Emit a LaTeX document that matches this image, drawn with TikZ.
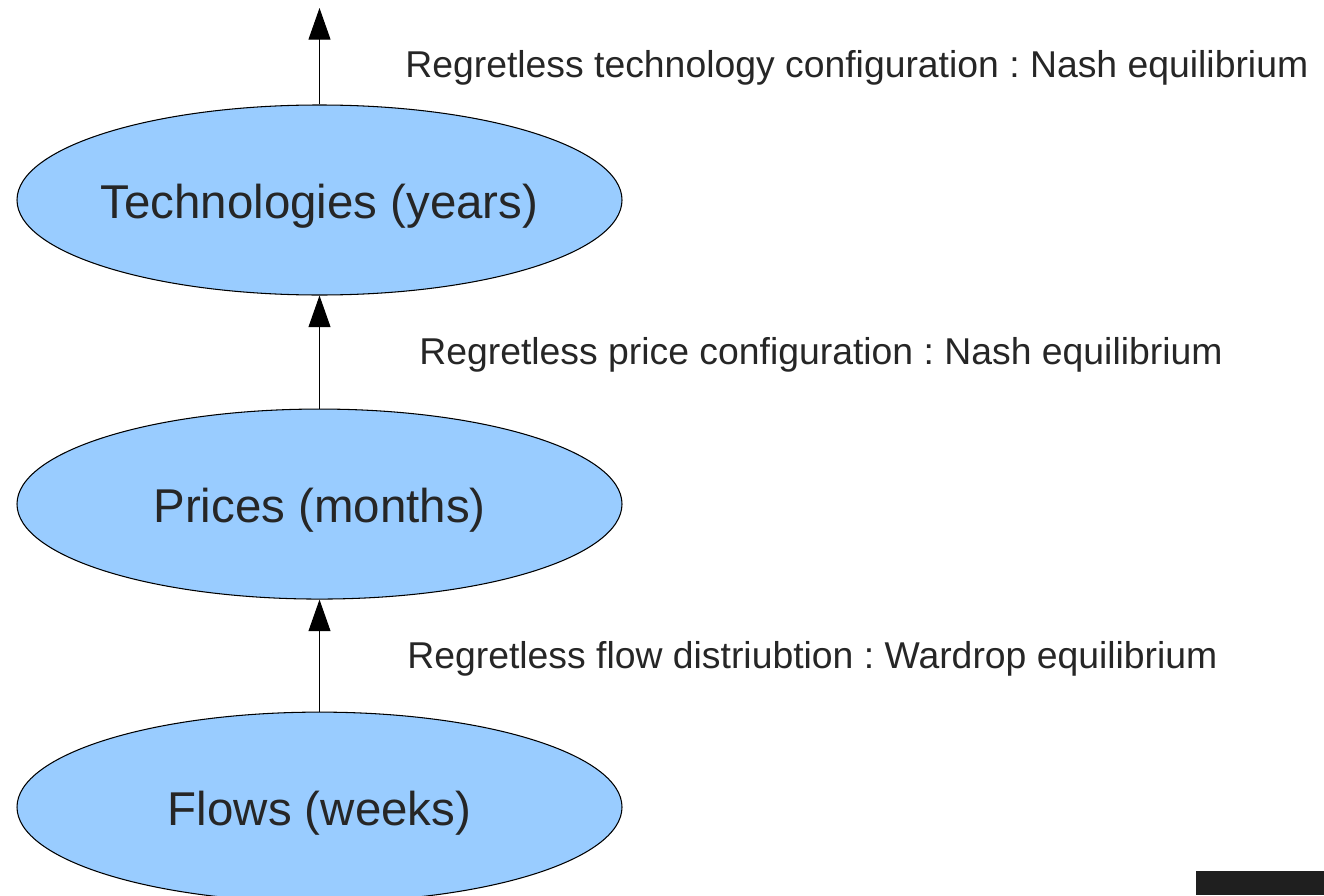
\documentclass[tikz,border=0pt]{standalone}
\usepackage{fontspec}
\setmainfont{Liberation Sans}
\usetikzlibrary{shapes.geometric, arrows.meta, positioning}
\definecolor{skyfill}{HTML}{99CCFF}
\frenchspacing

\begin{document}
\begin{tikzpicture}[
    level/.style={ellipse, draw=black, fill=skyfill, line width=0.6pt, inner xsep=-0.3cm, inner ysep=0pt, minimum width=12.1cm, minimum height=3.8cm, text height=0.94cm, text depth=0.2cm, font=\fontsize{27}{32}\selectfont, text=black!85},
    note/.style={anchor=west, inner sep=0pt, font=\fontsize{21.25}{25}\selectfont, text=black!85},
    arrow/.style={-{Triangle[length=18pt, width=12.5pt]}, line width=0.6pt, draw=black}
]
    \useasboundingbox (0,0) rectangle (26.48,-17.9);

    \node[level] (tech) at (6.39,-4.0) {Technologies (years)};
    \node[level, below=2.26cm of tech] (prices) {Prices (months)};
    \node[level, below=2.24cm of prices] (flows) {Flows (weeks)};
    \coordinate (top) at (6.39,-0.16);

    \draw[arrow] (tech) -- (top);
    \draw[arrow] (prices) -- (tech);
    \draw[arrow] (flows) -- (prices);

    \node[note] (techlabel) at (8.1,-1.36) {Regretless technology configuration : Nash equilibrium};
    \node[note] (pricelabel) at (8.38,-7.1) {Regretless price configuration : Nash equilibrium};
    \node[note] (flowlabel) at (8.14,-13.18) {Regretless flow distriubtion : Wardrop equilibrium};

    % dark block in the lower right corner
    \fill[black!88] (23.92,-17.42) rectangle (26.48,-17.9);
\end{tikzpicture}
\end{document}
